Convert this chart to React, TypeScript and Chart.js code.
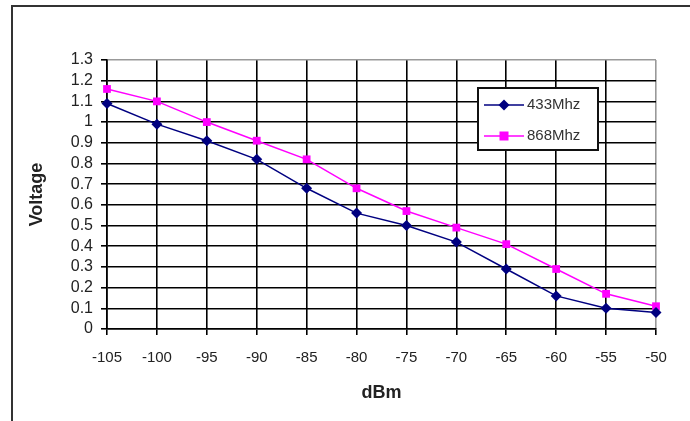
import React, { useEffect, useRef } from "react";
import { Chart, registerables } from "chart.js";

Chart.register(...registerables);

const xLabels = ["-105", "-100", "-95", "-90", "-85", "-80", "-75", "-70", "-65", "-60", "-55", "-50"];
const series433 = [1.09, 0.99, 0.91, 0.82, 0.68, 0.56, 0.5, 0.42, 0.29, 0.16, 0.1, 0.08];
const series868 = [1.16, 1.1, 1.0, 0.91, 0.82, 0.68, 0.57, 0.49, 0.41, 0.29, 0.17, 0.11];
const seriesNames = ["433Mhz", "868Mhz"];
const yTitle = "Voltage";
const xTitle = "dBm";

const FONT = "'Liberation Sans', Arial, sans-serif";

const framePlugin = {
  id: "frame",
  beforeDraw(chart: any) {
    const ctx = chart.ctx;
    ctx.save();
    ctx.fillStyle = "#ffffff";
    ctx.fillRect(0, 0, chart.width, chart.height);
    ctx.strokeStyle = "#333333";
    ctx.lineWidth = 2;
    ctx.beginPath();
    ctx.moveTo(12, chart.height);
    ctx.lineTo(12, 6);
    ctx.lineTo(chart.width, 6);
    ctx.stroke();
    ctx.restore();
  },
};

const boxLegendPlugin = {
  id: "boxLegend",
  afterDraw(chart: any) {
    const ctx = chart.ctx;
    const bx = 478, by = 88, bw = 120, bh = 62;
    ctx.save();
    ctx.fillStyle = "#ffffff";
    ctx.fillRect(bx, by, bw, bh);
    ctx.strokeStyle = "#111111";
    ctx.lineWidth = 2;
    ctx.strokeRect(bx, by, bw, bh);
    chart.data.datasets.forEach((ds: any, i: number) => {
      const y = by + 17 + i * 31;
      ctx.strokeStyle = ds.borderColor;
      ctx.lineWidth = 1.5;
      ctx.beginPath();
      ctx.moveTo(484, y);
      ctx.lineTo(524, y);
      ctx.stroke();
      ctx.fillStyle = ds.pointBackgroundColor;
      const r = 5.5;
      ctx.beginPath();
      if (ds.pointStyle === "rectRot") {
        ctx.moveTo(504, y - r);
        ctx.lineTo(504 + r, y);
        ctx.lineTo(504, y + r);
        ctx.lineTo(504 - r, y);
        ctx.closePath();
        ctx.fill();
      } else {
        ctx.fillRect(504 - 4.5, y - 4.5, 9, 9);
      }
      ctx.fillStyle = "#333333";
      ctx.font = `15px ${FONT}`;
      ctx.textBaseline = "middle";
      ctx.textAlign = "left";
      ctx.fillText(ds.label, 527, y);
    });
    ctx.restore();
  },
};

export default function App() {
  const ref = useRef<HTMLCanvasElement | null>(null);
  useEffect(() => {
    if (!ref.current) return;
    const chart = new Chart(ref.current, {
      type: "line",
      data: {
        labels: xLabels,
        datasets: [
          {
            label: seriesNames[0],
            data: series433,
            borderColor: "#000080",
            backgroundColor: "#000080",
            pointBackgroundColor: "#000080",
            pointBorderColor: "#000080",
            pointStyle: "rectRot",
            pointRadius: 5.5,
            pointBorderWidth: 0,
            borderWidth: 1.5,
            tension: 0,
            clip: false,
          } as any,
          {
            label: seriesNames[1],
            data: series868,
            borderColor: "#ff00ff",
            backgroundColor: "#ff00ff",
            pointBackgroundColor: "#ff00ff",
            pointBorderColor: "#ff00ff",
            pointStyle: "rect",
            pointRadius: 5.5,
            pointBorderWidth: 0,
            borderWidth: 1.5,
            tension: 0,
            clip: false,
          } as any,
        ],
      },
      options: {
        animation: false,
        responsive: true,
        maintainAspectRatio: false,
        layout: { padding: { left: 0, top: 60, right: 34, bottom: 0 } },
        plugins: { legend: { display: false }, tooltip: { enabled: false } },
        scales: {
          x: {
            type: "category",
            offset: false,
            afterFit(scale: any) {
              scale.height = 92;
            },
            grid: {
              offset: false,
              color: (c: any) => (c.index === xLabels.length - 1 ? "#999999" : "#000000"),
              tickColor: "#000000",
              lineWidth: 1.6,
              tickLength: 6,
            },
            border: { color: "#000000", width: 1.6 },
            ticks: {
              color: "#222222",
              font: { family: FONT, size: 15 },
              padding: 14,
              maxRotation: 0,
              autoSkip: false,
            },
            title: {
              display: true,
              text: xTitle,
              color: "#222222",
              font: { family: FONT, size: 18, weight: "bold" },
              padding: { top: 0, bottom: 17 },
            },
          },
          y: {
            min: 0,
            max: 1.3,
            afterFit(scale: any) {
              scale.width = 107;
            },
            grid: {
              color: (c: any) => (c.tick && Math.abs(c.tick.value - 1.3) < 1e-6 ? "#999999" : "#000000"),
              tickColor: "#000000",
              lineWidth: 1.6,
              tickLength: 6,
            },
            border: { color: "#000000", width: 1.6 },
            ticks: {
              stepSize: 0.1,
              color: "#222222",
              font: { family: FONT, size: 16 },
              padding: 8,
              autoSkip: false,
              callback: (v: any) => String(Math.round(Number(v) * 10) / 10),
            },
            title: {
              display: true,
              text: yTitle,
              color: "#222222",
              font: { family: FONT, size: 18, weight: "bold" },
              padding: { top: 26, bottom: 0 },
            },
          },
        },
      },
      plugins: [framePlugin, boxLegendPlugin],
    });
    return () => chart.destroy();
  }, []);
  return (
    <div style={{ position: "absolute", left: 0, top: 0, width: 690, height: 421 }}>
      <canvas ref={ref} />
    </div>
  );
}
